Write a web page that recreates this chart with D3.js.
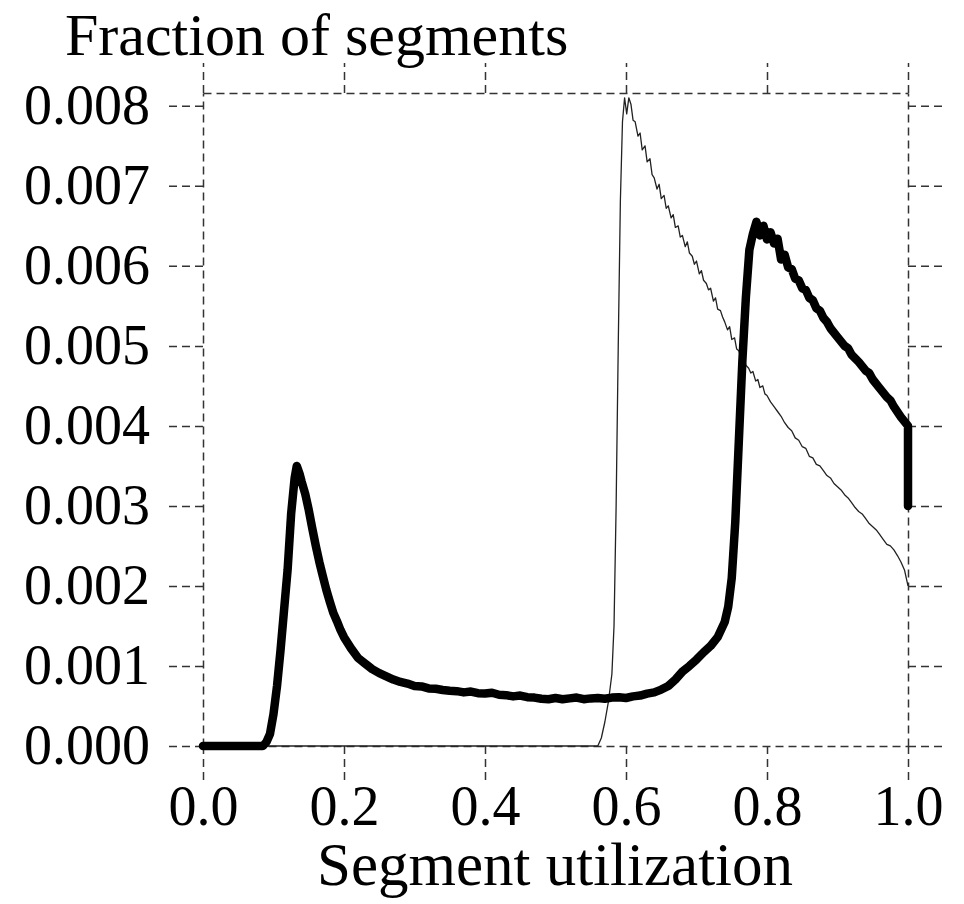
<!DOCTYPE html>
<html>
<head>
<meta charset="utf-8">
<script src="https://cdn.jsdelivr.net/npm/d3@7/dist/d3.min.js"></script>
<style>
  html, body { margin: 0; padding: 0; background: #fff; }
  svg { display: block; }
  text { font-family: "Liberation Serif", "Times New Roman", serif; fill: #000; }
</style>
</head>
<body>
<svg id="chart" width="964" height="904"></svg>
<script>
// ---- data (values in units of 1e-3 fraction) ----
const xTicks = [0.0, 0.2, 0.4, 0.6, 0.8, 1.0];
const yTicks = [0.000, 0.001, 0.002, 0.003, 0.004, 0.005, 0.006, 0.007, 0.008];
const yTitle = "Fraction of segments";
const xTitle = "Segment utilization";

// thick series: [utilization, fraction*1000]
const thickSeries = [
  [0.00,0],[0.085,0],[0.09,0.05],[0.095,0.15],[0.10,0.4],[0.105,0.75],[0.11,1.2],[0.115,1.7],
  [0.12,2.2],[0.125,2.9],[0.13,3.35],[0.133,3.5],[0.137,3.4],[0.14,3.3],[0.145,3.15],[0.15,2.95],
  [0.155,2.72],[0.16,2.5],[0.165,2.3],[0.17,2.12],[0.175,1.95],[0.18,1.8],[0.185,1.66],[0.19,1.56],
  [0.195,1.45],[0.20,1.36],[0.21,1.22],[0.22,1.1],[0.23,1.03],[0.24,0.96],[0.25,0.91],[0.26,0.87],
  [0.27,0.83],[0.28,0.80],[0.29,0.78],[0.30,0.75],[0.31,0.745],[0.32,0.72],[0.33,0.715],[0.34,0.70],
  [0.35,0.69],[0.36,0.685],[0.37,0.67],[0.38,0.68],[0.39,0.66],[0.40,0.655],[0.41,0.665],[0.42,0.64],
  [0.43,0.635],[0.44,0.62],[0.45,0.63],[0.46,0.61],[0.47,0.605],[0.48,0.59],[0.49,0.585],[0.50,0.60],
  [0.51,0.585],[0.52,0.595],[0.53,0.605],[0.54,0.585],[0.55,0.595],[0.56,0.60],[0.57,0.59],[0.58,0.605],
  [0.59,0.61],[0.60,0.60],[0.61,0.62],[0.62,0.63],[0.63,0.655],[0.64,0.67],[0.65,0.705],[0.66,0.75],
  [0.67,0.83],[0.68,0.93],[0.69,1.0],[0.70,1.08],[0.71,1.17],[0.72,1.25],[0.73,1.36],[0.74,1.55],
  [0.745,1.74],[0.75,2.1],[0.755,2.8],[0.76,3.8],[0.765,4.8],[0.77,5.6],[0.775,6.2],[0.78,6.4],
  [0.785,6.55],[0.79,6.38],[0.795,6.5],[0.80,6.33],[0.805,6.42],[0.81,6.28],[0.815,6.34],[0.82,6.08],
  [0.825,6.14],[0.83,5.98],[0.835,5.96],[0.84,5.84],[0.845,5.82],[0.85,5.72],[0.855,5.7],[0.86,5.6],
  [0.865,5.57],[0.87,5.47],[0.875,5.44],[0.88,5.35],[0.885,5.3],[0.89,5.22],[0.90,5.11],[0.91,5.0],
  [0.915,4.97],[0.92,4.89],[0.93,4.8],[0.94,4.69],[0.945,4.66],[0.95,4.58],[0.96,4.47],[0.97,4.36],
  [0.975,4.32],[0.98,4.24],[0.99,4.11],[1.0,4.0],[1.0,3.0]
];

// thin series: [utilization, fraction*1000]
const thinSeries = [
  [0.00,0],[0.56,0],[0.565,0.1],[0.57,0.3],[0.575,0.55],[0.58,0.9],[0.583,1.5],[0.586,3.0],
  [0.589,5.0],[0.592,6.8],[0.595,7.8],[0.598,8.1],[0.601,7.9],[0.604,8.1],[0.607,8.02],[0.61,7.82],
  [0.613,7.8],[0.617,7.62],[0.62,7.66],[0.623,7.45],[0.627,7.5],[0.63,7.3],[0.634,7.34],[0.637,7.14],
  [0.64,7.1],[0.644,6.96],[0.647,7.02],[0.65,6.84],[0.654,6.88],[0.657,6.72],[0.66,6.75],[0.664,6.6],
  [0.667,6.64],[0.67,6.48],[0.674,6.5],[0.677,6.36],[0.68,6.38],[0.684,6.24],[0.687,6.3],[0.69,6.16],
  [0.694,6.12],[0.697,6.02],[0.70,6.06],[0.704,5.9],[0.707,5.94],[0.71,5.82],[0.714,5.78],[0.717,5.7],
  [0.72,5.72],[0.724,5.56],[0.727,5.6],[0.73,5.46],[0.734,5.44],[0.737,5.36],[0.74,5.3],[0.744,5.2],
  [0.747,5.24],[0.75,5.08],[0.754,5.1],[0.757,4.96],[0.76,4.94],[0.764,4.84],[0.767,4.88],[0.77,4.76],
  [0.774,4.72],[0.777,4.66],[0.78,4.68],[0.784,4.56],[0.787,4.58],[0.79,4.48],[0.794,4.5],[0.797,4.4],
  [0.80,4.38],[0.805,4.3],[0.81,4.24],[0.815,4.18],[0.82,4.12],[0.825,4.04],[0.83,3.98],[0.835,3.94],
  [0.84,3.85],[0.845,3.82],[0.85,3.74],[0.855,3.72],[0.86,3.62],[0.865,3.6],[0.87,3.52],[0.875,3.5],
  [0.88,3.44],[0.885,3.38],[0.89,3.35],[0.895,3.28],[0.90,3.24],[0.905,3.2],[0.91,3.14],[0.915,3.1],
  [0.92,3.04],[0.925,2.98],[0.93,2.93],[0.935,2.9],[0.94,2.84],[0.945,2.78],[0.95,2.74],[0.955,2.7],
  [0.96,2.64],[0.965,2.58],[0.97,2.52],[0.975,2.5],[0.98,2.45],[0.985,2.38],[0.99,2.3],[0.995,2.2],
  [1.0,2.0]
];

// ---- layout ----
const svg = d3.select("#chart");
const X0 = 203, X1 = 908, Y0 = 746, Y1 = 93;
const x = d3.scaleLinear().domain([0, 1]).range([X0, X1]);
const y = d3.scaleLinear().domain([0, 8.16]).range([Y0, Y1]);
const fontSize = 56;
const dash = "8,5";
const axisColor = "#333";

function styleAxis(g) {
  g.select(".domain").attr("stroke", axisColor).attr("stroke-width", 1.5).attr("stroke-dasharray", dash);
  g.selectAll(".tick line").attr("stroke", axisColor).attr("stroke-width", 1.5).attr("stroke-dasharray", dash);
  g.selectAll("text").attr("font-family", "Liberation Serif, serif").attr("font-size", fontSize).attr("fill", "#000");
}

// left axis
svg.append("g").attr("transform", `translate(${X0},0)`)
  .call(d3.axisLeft(y).tickValues(yTicks.map(v => v * 1000)).tickSize(34).tickSizeOuter(0).tickPadding(19)
    .tickFormat(v => d3.format(".3f")(v / 1000)))
  .call(styleAxis);

// right axis (no labels)
svg.append("g").attr("transform", `translate(${X1},0)`)
  .call(d3.axisRight(y).tickValues(yTicks.map(v => v * 1000)).tickSize(37).tickSizeOuter(0).tickFormat(""))
  .call(styleAxis);

// bottom axis
svg.append("g").attr("transform", `translate(0,${Y0})`)
  .call(d3.axisBottom(x).tickValues(xTicks).tickSize(34).tickSizeOuter(0).tickPadding(5)
    .tickFormat(d3.format(".1f")))
  .call(styleAxis);

// top axis (no labels)
svg.append("g").attr("transform", `translate(0,${Y1})`)
  .call(d3.axisTop(x).tickValues(xTicks).tickSize(30).tickSizeOuter(0).tickFormat(""))
  .call(styleAxis);

// lines
const line = d3.line().x(d => x(d[0])).y(d => y(d[1]));

svg.append("path").datum(thinSeries)
  .attr("fill", "none").attr("stroke", "#222").attr("stroke-width", 1.3)
  .attr("stroke-linejoin", "round").attr("d", line);

svg.append("path").datum(thickSeries)
  .attr("fill", "none").attr("stroke", "#000").attr("stroke-width", 8.5)
  .attr("stroke-linejoin", "round").attr("stroke-linecap", "round").attr("d", line);

// titles
svg.append("text").attr("x", 65).attr("y", 55)
  .attr("font-size", 60).text(yTitle);
svg.append("text").attr("x", 555).attr("y", 885).attr("text-anchor", "middle")
  .attr("font-size", 61).text(xTitle);
</script>
</body>
</html>
